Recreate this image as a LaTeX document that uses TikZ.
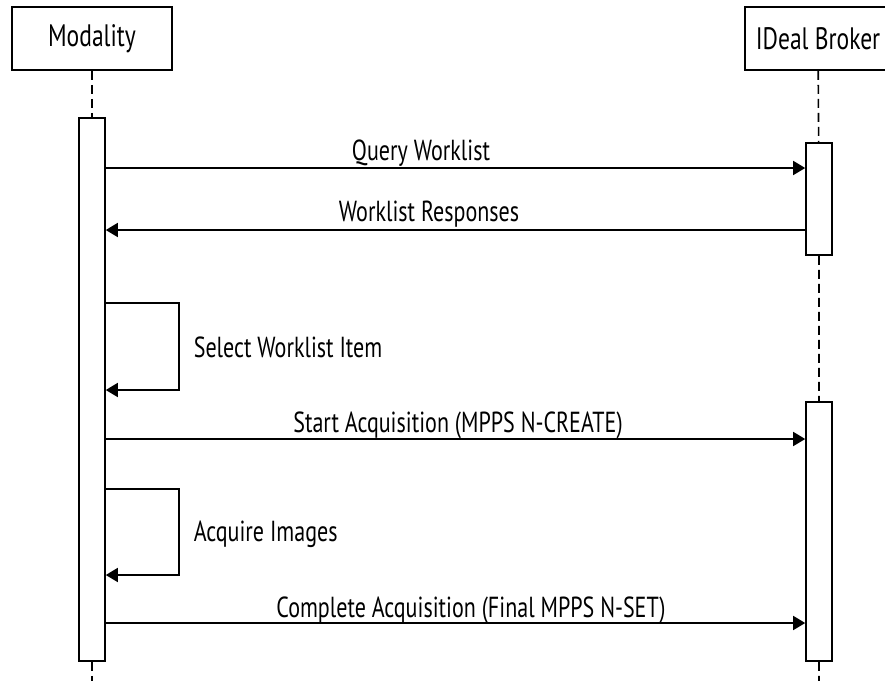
\documentclass[tikz,border=0pt]{standalone}
\usepackage{fontspec}
\setmainfont{PT Sans}[FakeStretch=0.76]
\usetikzlibrary{arrows.meta,positioning}
\begin{document}
\begin{tikzpicture}[x=0.5pt,y=-0.5pt,line width=0.8pt,
		>={Triangle[length=6pt,width=7pt]},
		head/.style={draw,minimum height=31.5pt,inner sep=0pt,font=\fontsize{15.5}{18}\selectfont},
		bar/.style={draw,fill=white,minimum width=13pt,inner sep=0pt},
		life/.style={dash pattern=on 4.5pt off 2.5pt},
		msg/.style={->},
		lbl/.style={anchor=base,inner sep=0pt,font=\fontsize{14.5}{17}\selectfont}]
		\clip (0,0) rectangle (885,681);
		% lifeline heads
		\node[head,minimum width=80pt] (mod) at (92,38.5) {Modality};
		\node[head,minimum width=73pt] (brk) at (818,38.5) {IDeal Broker};
		% activation bars
		\node[bar,minimum height=271.5pt] (mbar) at (92,389.5) {};
		\node[bar,minimum height=56pt] (bbar1) at (819,199) {};
		\node[bar,minimum height=129.5pt] (bbar2) at (819,531.5) {};
		\coordinate (mend) at (92,690);
		\coordinate (bend) at (819,690);
		\draw[life] (mod) -- (mbar) (mbar) -- (mend);
		\draw[life] (brk) -- (bbar1) (bbar1) -- (bbar2) (bbar2) -- (bend);
		% message levels
		\coordinate (query) at (0,168);
		\coordinate (resp) at (0,230);
		\coordinate (sel1) at (0,303);
		\coordinate (sel2) at (0,390);
		\coordinate (start) at (0,439);
		\coordinate (acq1) at (0,489);
		\coordinate (acq2) at (0,575);
		\coordinate (done) at (0,623);
		% messages
		\draw[msg] (mbar.east |- query) -- (bbar1.west |- query);
		\node[lbl] at (421,160.5) {Query Worklist};
		\draw[msg] (bbar1.west |- resp) -- (mbar.east |- resp);
		\node[lbl] at (429,221.5) {Worklist Responses};
		\draw[msg] (mbar.east |- sel1) -- ++(73,0) |- (mbar.east |- sel2);
		\node[lbl,anchor=base west] at (193,357) {Select Worklist Item};
		\draw[msg] (mbar.east |- start) -- (bbar2.west |- start);
		\node[lbl] at (458,432) {Start Acquisition (MPPS N-CREATE)};
		\draw[msg] (mbar.east |- acq1) -- ++(73,0) |- (mbar.east |- acq2);
		\node[lbl,anchor=base west] at (193,541.5) {Acquire Images};
		\draw[msg] (mbar.east |- done) -- (bbar2.west |- done);
		\node[lbl] at (471,617) {Complete Acquisition (Final MPPS N-SET)};
\end{tikzpicture}
\end{document}
